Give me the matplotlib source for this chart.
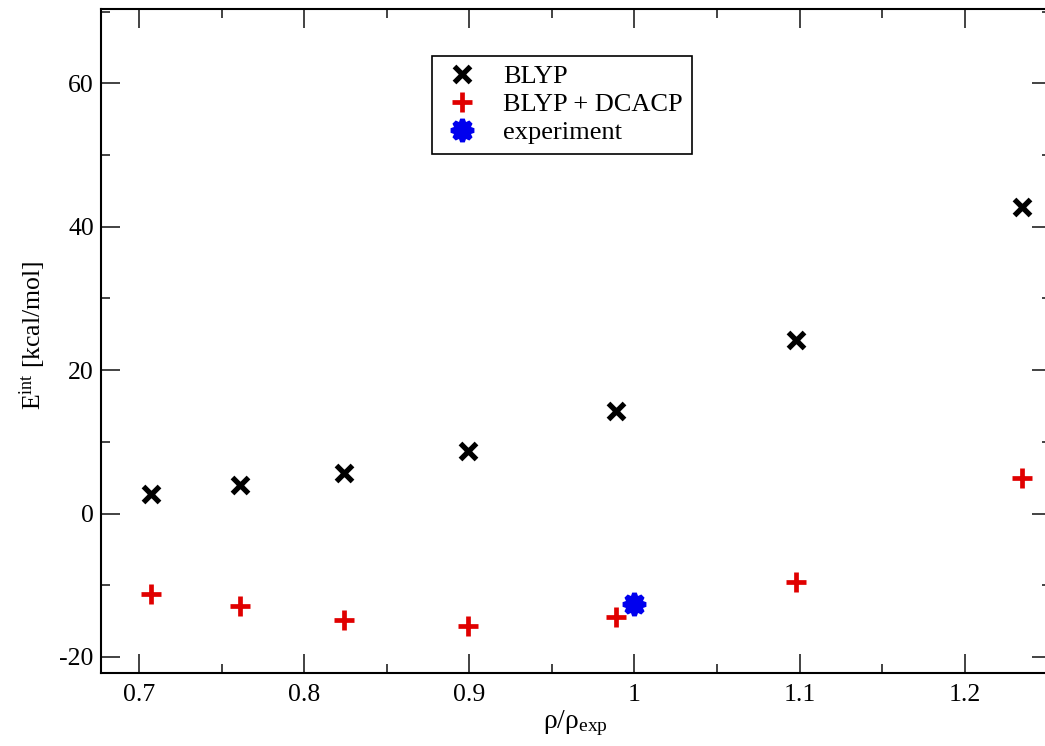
import matplotlib
matplotlib.use("Agg")
import matplotlib.pyplot as plt
from matplotlib.ticker import MultipleLocator

# ---- data ----
rho_ratio = [0.707, 0.761, 0.824, 0.899, 0.989, 1.098, 1.235]
e_blyp = [2.7, 4.0, 5.7, 8.7, 14.3, 24.2, 42.8]
e_dcacp = [-11.2, -12.9, -14.9, -15.7, -14.5, -9.6, 5.0]
exp_rho = [1.0]
exp_e = [-12.6]
series_labels = ["BLYP", "BLYP + DCACP", "experiment"]
x_ticks = [0.7, 0.8, 0.9, 1.0, 1.1, 1.2]
x_ticklabels = ["0.7", "0.8", "0.9", "1", "1.1", "1.2"]
y_ticks = [-20, 0, 20, 40, 60]
y_ticklabels = ["-20", "0", "20", "40", "60"]

plt.rcParams['font.family'] = ['Liberation Serif', 'DejaVu Serif']
plt.rcParams['mathtext.fontset'] = 'custom'
plt.rcParams['mathtext.rm'] = 'Liberation Serif'
plt.rcParams['mathtext.it'] = 'Liberation Serif'

W, H = 1045, 746
fig = plt.figure(figsize=(W / 100, H / 100), dpi=100)
left_px, right_px, top_px, bot_px = 100.7, 1050.5, 8.7, 672.7
ax = fig.add_axes([left_px / W, 1 - bot_px / H, (right_px - left_px) / W, (bot_px - top_px) / H])

ax.plot(rho_ratio, e_blyp, linestyle='none', marker='x', ms=11, mew=3.8,
        color='black', label=series_labels[0])
ax.plot(rho_ratio, e_dcacp, linestyle='none', marker='+', ms=15, mew=3.4,
        color='#e00000', label=series_labels[1])
ax.plot(exp_rho, exp_e, linestyle='none', marker=(8, 1, 0), ms=16, mew=3.5,
        color='#0000ee', mec='#0000ee', label=series_labels[2])

ax.set_xlim(0.6768, 1.252)
ax.set_ylim(-22.2, 70.4)
ax.set_xticks(x_ticks)
ax.set_xticklabels(x_ticklabels)
ax.set_yticks(y_ticks)
ax.set_yticklabels(y_ticklabels)
ax.xaxis.set_minor_locator(MultipleLocator(0.05))
ax.yaxis.set_minor_locator(MultipleLocator(10))
ax.tick_params(which='both', direction='in', top=True, right=True, width=1.2, color='#222222')
ax.tick_params(which='major', length=14)
ax.tick_params(which='minor', length=6.5)
ax.tick_params(axis='x', which='major', pad=8, labelsize=18.5)
ax.tick_params(axis='y', which='major', pad=5, labelsize=18.5)
for s in ax.spines.values():
    s.set_linewidth(1.5)

ax.set_xlabel(r'$\mathrm{ρ/ρ_{exp}}$', fontsize=20, labelpad=2)
fig.text(33 / W, 1 - 335 / H, r'$\mathrm{E^{int}}$ [kcal/mol]', rotation=90,
         ha='center', va='center', fontsize=18.5)

leg = ax.legend(loc='upper left', bbox_to_anchor=(432.3 / W, 1 - 55.7 / H),
                bbox_transform=fig.transFigure, borderaxespad=0, numpoints=1,
                frameon=True, fancybox=False, edgecolor='black', framealpha=1,
                fontsize=19, handlelength=1.55, handletextpad=0.78, labelspacing=0.17,
                borderpad=0.35)
leg.get_frame().set_linewidth(1.2)

fig.savefig('out.png', dpi=100)
